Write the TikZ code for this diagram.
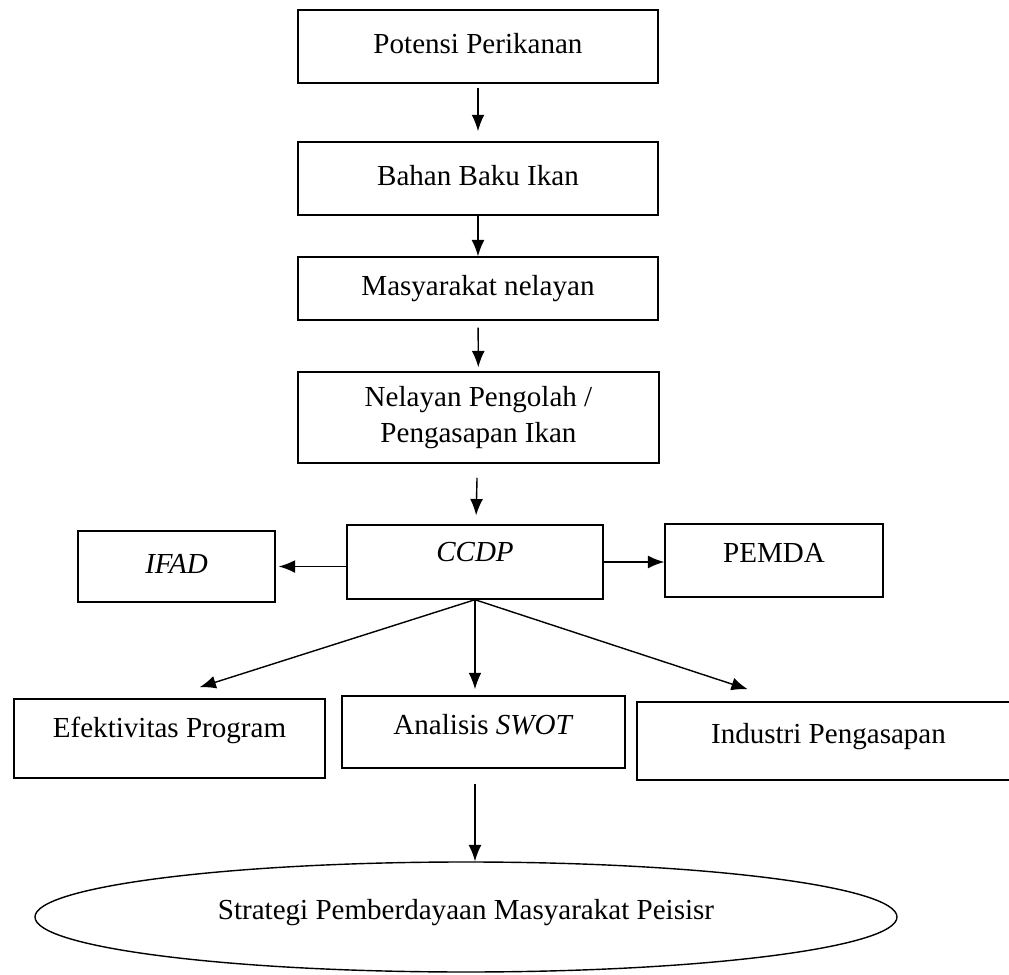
\documentclass[tikz,border=0pt]{standalone}
\usepackage{fontspec}
\setmainfont{Liberation Serif}
\usepackage{tikz}
\usetikzlibrary{shapes,arrows,arrows.meta,positioning,calc}

\begin{document}
\begin{tikzpicture}[
    x=0.015cm, y=-0.015cm,
    every node/.style={font=\fontsize{12.4}{15}\selectfont},
    box/.style={rectangle, draw, line width=0.6pt, inner sep=0pt, text height=8.5pt, text depth=2.6pt},
    twoline/.style={rectangle, draw, line width=0.6pt, inner sep=0pt, align=center},
    oval/.style={ellipse, draw, line width=0.6pt, inner sep=0pt, text height=8.5pt, text depth=6pt},
    line/.style={draw, -{Latex[length=7pt,width=5.5pt]}, line width=0.6pt}
]
\useasboundingbox (0,0) rectangle (1009,975);
\clip (0,0) rectangle (1009,975);

% Main chain
\node [box, minimum width=5.4cm, minimum height=1.095cm] (potensi) at (478,46.5) {Potensi Perikanan};
\node [box, minimum width=5.4cm, minimum height=1.095cm] (bahan) at (478,178.5) {Bahan Baku Ikan};
\node [box, minimum width=5.4cm, minimum height=0.945cm] (masyarakat) at (478,288.5) {Masyarakat nelayan};
\node [twoline, minimum width=5.415cm, minimum height=1.365cm] (nelayan) at (478.5,417.5) {Nelayan Pengolah /\\Pengasapan Ikan};

% Program row
\node [box, text depth=9pt, minimum width=3.84cm, minimum height=1.11cm] (ccdp) at (475,562) {\textit{CCDP}};
\node [box, minimum width=2.955cm, minimum height=1.065cm] (ifad) at (176.5,566.5) {\textit{IFAD}};
\node [box, text depth=6.5pt, minimum width=3.27cm, minimum height=1.095cm] (pemda) at (774,560.5) {PEMDA};

% Analysis row
\node [box, text depth=9pt, minimum width=4.665cm, minimum height=1.185cm] (efektivitas) at (169.5,738.5) {Efektivitas Program};
\node [box, text depth=6.5pt, minimum width=4.245cm, minimum height=1.08cm] (swot) at (483.5,732) {Analisis \textit{SWOT}};
\node [box, text depth=6.5pt, minimum width=5.745cm, minimum height=1.17cm] (industri) at (828.5,741) {Industri Pengasapan};

% Goal
\node [oval, minimum width=12.93cm, minimum height=1.65cm] (strategi) at (466,917) {Strategi Pemberdayaan Masyarakat Peisisr};

% Connections - main chain
\path [line, shorten <=1.7pt, shorten >=4.3pt] (potensi) -- (bahan);
\path [line] (bahan) -- (masyarakat);
\path [line, shorten <=3pt, shorten >=1.7pt] (masyarakat) -- (nelayan);
\path [line, shorten <=6pt, shorten >=3.8pt] (nelayan) -- (ccdp);

% Connections - side boxes
\path [line, shorten >=1.3pt] (ifad.east -| ccdp.west) -- (ifad.east);
\path [line] (ccdp.east) -- (ccdp.east -| pemda.west);

% Connections - analysis
\path [line] (ccdp.south) -- ([xshift=0.45cm, yshift=0.165cm]efektivitas.north);
\path [line, shorten >=2.6pt] (ccdp.south) -- (ccdp.south |- swot.north);
\path [line] (ccdp.south) -- ([xshift=-1.21cm, yshift=0.18cm]industri.north);
\path [line, shorten <=6.4pt] (ccdp.south |- swot.south) -- (ccdp.south |- strategi.north);

\end{tikzpicture}
\end{document}
